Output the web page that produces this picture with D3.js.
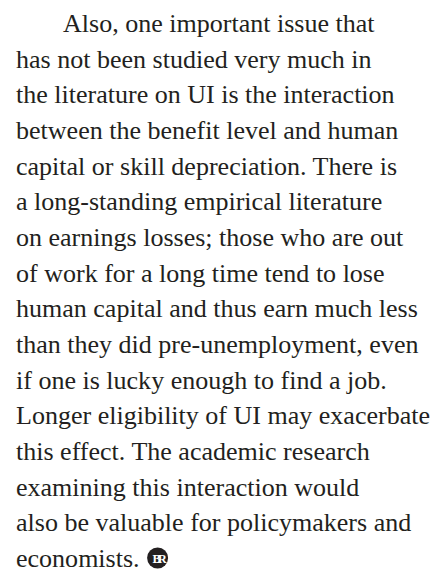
<!DOCTYPE html>
<html>
<head>
<meta charset="utf-8">
<script src="https://cdn.jsdelivr.net/npm/d3@7"></script>
<style>
  html, body { margin: 0; padding: 0; background: #fff; }
  svg { display: block; }
</style>
</head>
<body>
<svg id="page"></svg>
<script>
const width = 432;
const height = 573;

// paragraph, one entry per printed line
const lines = [
  'Also, one important issue that',
  'has not been studied very much in',
  'the literature on UI is the interaction',
  'between the benefit level and human',
  'capital or skill depreciation. There is',
  'a long-standing empirical literature',
  'on earnings losses; those who are out',
  'of work for a long time tend to lose',
  'human capital and thus earn much less',
  'than they did pre-unemployment, even',
  'if one is lucky enough to find a job.',
  'Longer eligibility of UI may exacerbate',
  'this effect. The academic research',
  'examining this interaction would',
  'also be valuable for policymakers and',
  'economists.'
];
const endMark = 'BR';

const svg = d3.select('#page')
    .attr('width', width)
    .attr('height', height);

const y = d3.scaleLinear()
    .domain([0, lines.length - 1])
    .range([32, 567]);

const left = 16, indent = 47, measureWidth = 414;

const txt = svg.append('g').selectAll('text')
    .data(lines)
    .join('text')
    .attr('x', (d, i) => i === 0 ? left + indent : left)
    .attr('y', (d, i) => y(i))
    .style('font-family', '"Liberation Serif", "DejaVu Serif", serif')
    .style('font-size', '26px')
    .style('fill', '#231f20')
    .text(d => d);

// stretch so the widest line fills the measure, like the printed column
const natural = txt.nodes().map(n => n.getComputedTextLength());
const k = measureWidth / d3.max(natural, (w, i) => w + (i === 0 ? indent : 0));
txt.attr('textLength', (d, i) => natural[i] * k)
   .attr('lengthAdjust', 'spacingAndGlyphs');

// end mark after the last word
const lastEnd = left + natural[lines.length - 1] * k;
const cx = lastEnd + 18, cy = y(lines.length - 1) - 9, r = 10.5;

const logo = svg.append('g').attr('transform', `translate(${cx},${cy})`);
logo.append('circle').attr('r', r).style('fill', '#231f20');
logo.append('text')
    .attr('x', 0.5)
    .attr('y', 4.5)
    .attr('text-anchor', 'middle')
    .style('font-family', '"Liberation Serif", serif')
    .style('font-weight', 'bold')
    .style('font-size', '12.5px')
    .style('letter-spacing', '-3px')
    .style('fill', '#fff')
    .text(endMark);
</script>
</body>
</html>
